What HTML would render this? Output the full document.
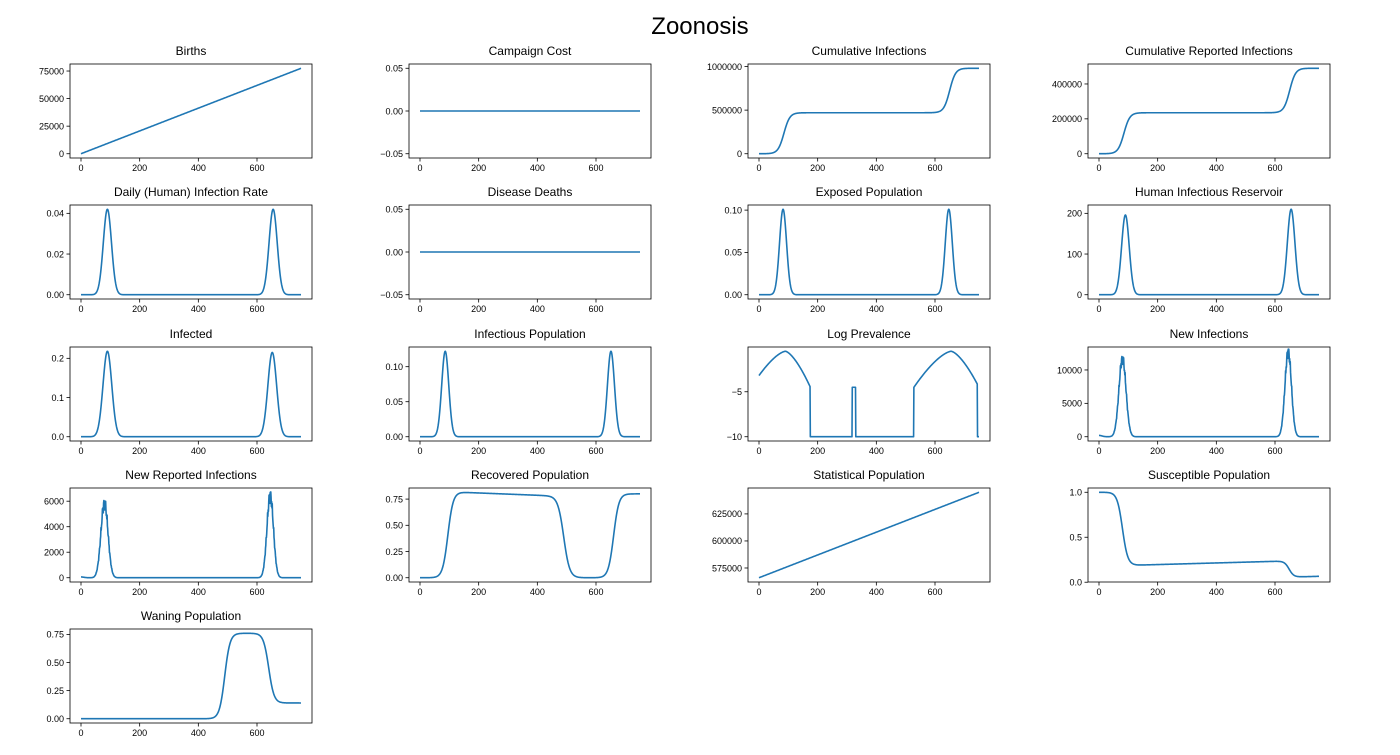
<!DOCTYPE html>
<html><head><meta charset="utf-8"><style>
body{margin:0;background:#fff}
svg{font-family:"Liberation Sans","DejaVu Sans",sans-serif}
.t{font-size:12px;text-anchor:middle}
.x{font-size:9px;text-anchor:middle}
.y{font-size:9px;text-anchor:end}
</style></head><body>
<svg id="s" width="1400" height="750" xmlns="http://www.w3.org/2000/svg">
<rect width="1400" height="750" fill="#fff"/>
<text x="700" y="34" style="font-size:24px;text-anchor:middle">Zoonosis</text>

<g transform="translate(70,64)"><text class="t" x="121" y="-9">Births</text>
<text class="y" x="-6" y="93">0</text><text class="y" x="-6" y="65.5">25000</text><text class="y" x="-6" y="38">50000</text><text class="y" x="-6" y="10.5">75000</text></g>
<g transform="translate(409,64)"><text class="t" x="121" y="-9">Campaign Cost</text>
<text class="y" x="-6" y="7.6">0.05</text><text class="y" x="-6" y="50.3">0.00</text><text class="y" x="-6" y="93">−0.05</text></g>
<g transform="translate(748,64)"><text class="t" x="121" y="-9">Cumulative Infections</text>
<text class="y" x="-6" y="93">0</text><text class="y" x="-6" y="49.4">500000</text><text class="y" x="-6" y="5.8">1000000</text></g>
<g transform="translate(1088,64)"><text class="t" x="121" y="-9">Cumulative Reported Infections</text>
<text class="y" x="-6" y="93">0</text><text class="y" x="-6" y="58.1">200000</text><text class="y" x="-6" y="23.3">400000</text></g>

<g transform="translate(70,205)"><text class="t" x="121" y="-9">Daily (Human) Infection Rate</text>
<text class="y" x="-6" y="93">0.00</text><text class="y" x="-6" y="52.3">0.02</text><text class="y" x="-6" y="11.6">0.04</text></g>
<g transform="translate(409,205)"><text class="t" x="121" y="-9">Disease Deaths</text>
<text class="y" x="-6" y="7.6">0.05</text><text class="y" x="-6" y="50.3">0.00</text><text class="y" x="-6" y="93">−0.05</text></g>
<g transform="translate(748,205)"><text class="t" x="121" y="-9">Exposed Population</text>
<text class="y" x="-6" y="93">0.00</text><text class="y" x="-6" y="50.7">0.05</text><text class="y" x="-6" y="8.4">0.10</text></g>
<g transform="translate(1088,205)"><text class="t" x="121" y="-9">Human Infectious Reservoir</text>
<text class="y" x="-6" y="93">0</text><text class="y" x="-6" y="52.3">100</text><text class="y" x="-6" y="11.6">200</text></g>

<g transform="translate(70,347)"><text class="t" x="121" y="-9">Infected</text>
<text class="y" x="-6" y="93">0.0</text><text class="y" x="-6" y="53.8">0.1</text><text class="y" x="-6" y="14.6">0.2</text></g>
<g transform="translate(409,347)"><text class="t" x="121" y="-9">Infectious Population</text>
<text class="y" x="-6" y="93">0.00</text><text class="y" x="-6" y="58">0.05</text><text class="y" x="-6" y="23">0.10</text></g>
<g transform="translate(748,347)"><text class="t" x="121" y="-9">Log Prevalence</text>
<text class="y" x="-6" y="48.1">−5</text><text class="y" x="-6" y="93">−10</text></g>
<g transform="translate(1088,347)"><text class="t" x="121" y="-9">New Infections</text>
<text class="y" x="-6" y="93">0</text><text class="y" x="-6" y="59.6">5000</text><text class="y" x="-6" y="26.3">10000</text></g>

<g transform="translate(70,488)"><text class="t" x="121" y="-9">New Reported Infections</text>
<text class="y" x="-6" y="93">0</text><text class="y" x="-6" y="67.5">2000</text><text class="y" x="-6" y="42">4000</text><text class="y" x="-6" y="16.5">6000</text></g>
<g transform="translate(409,488)"><text class="t" x="121" y="-9">Recovered Population</text>
<text class="y" x="-6" y="93">0.00</text><text class="y" x="-6" y="66.8">0.25</text><text class="y" x="-6" y="40.6">0.50</text><text class="y" x="-6" y="14.4">0.75</text></g>
<g transform="translate(748,488)"><text class="t" x="121" y="-9">Statistical Population</text>
<text class="y" x="-6" y="83.3">575000</text><text class="y" x="-6" y="56.2">600000</text><text class="y" x="-6" y="29.2">625000</text></g>
<g transform="translate(1088,488)"><text class="t" x="121" y="-9">Susceptible Population</text>
<text class="y" x="-6" y="97.5">0.0</text><text class="y" x="-6" y="52.5">0.5</text><text class="y" x="-6" y="7.6">1.0</text></g>

<g transform="translate(70,629)"><text class="t" x="121" y="-9">Waning Population</text>
<text class="y" x="-6" y="93">0.00</text><text class="y" x="-6" y="64.9">0.25</text><text class="y" x="-6" y="36.8">0.50</text><text class="y" x="-6" y="8.7">0.75</text></g>
</svg>
<script>
var S=document.getElementById('s'),NS='http://www.w3.org/2000/svg';
function el(n,a,p){var e=document.createElementNS(NS,n);for(var k in a)e.setAttribute(k,a[k]);(p||S).appendChild(e);return e}
var cx=[70,409,748,1088],ry=[64,205,347,488,629],W=242,H=94;
function g(t,c,s){return Math.exp(-Math.pow((t-c)/s,2)/2)}
function L(t,c,s){return 1/(1+Math.exp(-(t-c)/s))}
function nz(t){return Math.sin(t*2.7)*0.5+Math.sin(t*5.1)*0.5}
var P=[
[0,0,-3875,81375,[0,25000,50000,75000],function(t){return t*103.3}],
[1,0,-.055,.055,[-.05,0,.05],function(t){return 0}],
[2,0,-49000,1029000,[0,500000,1000000],function(t){return 470000*L(t,85,10)+510000*L(t,650,10)}],
[3,0,-24500,514500,[0,200000,400000],function(t){return 235000*L(t,85,10)+255000*L(t,650,10)}],
[0,1,-.0021,.0441,[0,.02,.04],function(t){return .042*g(t,90,14)+.042*g(t,655,14)}],
[1,1,-.055,.055,[-.05,0,.05],function(t){return 0}],
[2,1,-.00505,.10605,[0,.05,.1],function(t){return .101*g(t,82,12)+.101*g(t,647,12)}],
[3,1,-10.5,220.5,[0,100,200],function(t){return 196*g(t,90,13)+210*g(t,655,13)}],
[0,2,-.0109,.2289,[0,.1,.2],function(t){return .218*g(t,90,15)+.215*g(t,652,15)}],
[1,2,-.0061,.1281,[0,.05,.1],function(t){return .122*g(t,86,12)+.122*g(t,651,12)}],
[2,2,-10.475,-.025,[-5,-10],function(t){
 if(t<175)return t<90?-0.5-0.00316*Math.pow(90-t,1.5):-0.5-0.0051*Math.pow(t-90,1.5);
 if(t<318)return -10; if(t<330)return -4.5; if(t<528)return -10;
 if(t<745)return t<655?-0.5-0.0028*Math.pow(655-t,1.5):-0.5-0.00433*Math.pow(t-655,1.5); return -10}],
[3,2,-640,13440,[0,5000,10000],function(t){var v=11800*g(t,80,12)+12800*g(t,645,11);return Math.max(0,v*(1+.08*nz(t)))+200*g(t,0,10)}],
[0,3,-335,7035,[0,2000,4000,6000],function(t){var v=5900*g(t,80,12)+6500*g(t,645,11);return Math.max(0,v*(1+.1*nz(t)))+60*g(t,0,10)}],
[1,3,-.04075,.85575,[0,.25,.5,.75],function(t){var up=.815*L(t,95,9)-0.00011*Math.max(0,t-140);return up*(1-L(t,490,10))+.8*L(t,660,9)}],
[2,3,562050,648950,[575000,600000,625000],function(t){return 566000+t*105.3}],
[3,3,.0025,1.0475,[0,.5,1],function(t){var s=1-.81*L(t,80,9)+0.00009*Math.max(0,t-130);return s-.18*L(t,648,8)}],
[0,4,-.038,.798,[0,.25,.5,.75],function(t){return .76*L(t,490,9)-.62*L(t,640,9)}]
];
P.forEach(function(p){
 var x0=cx[p[0]],y0=ry[p[1]],b=p[2],tp=p[3];
 function X(t){return x0+(t+37.5)*W/825}function Y(v){return y0+H*(tp-v)/(tp-b)}
 var d='';for(var t=0;t<=750;t+=1){d+=(t?'L':'M')+X(t).toFixed(2)+','+Y(p[5](t)).toFixed(2)}
 el('path',{d:d,fill:'none',stroke:'#1f77b4','stroke-width':1.6,'stroke-linejoin':'round'});
 el('rect',{x:x0,y:y0,width:W,height:H,fill:'none',stroke:'#000','stroke-width':.8});
 [0,200,400,600].forEach(function(t){el('line',{x1:X(t),x2:X(t),y1:y0+H,y2:y0+H+3.5,stroke:'#000','stroke-width':.8});
  var tx=el('text',{x:X(t),y:y0+H+13,'class':'x'});tx.textContent=t});
 p[4].forEach(function(v){el('line',{x1:x0-3.5,x2:x0,y1:Y(v),y2:Y(v),stroke:'#000','stroke-width':.8})});
});
</script>
</body></html>
